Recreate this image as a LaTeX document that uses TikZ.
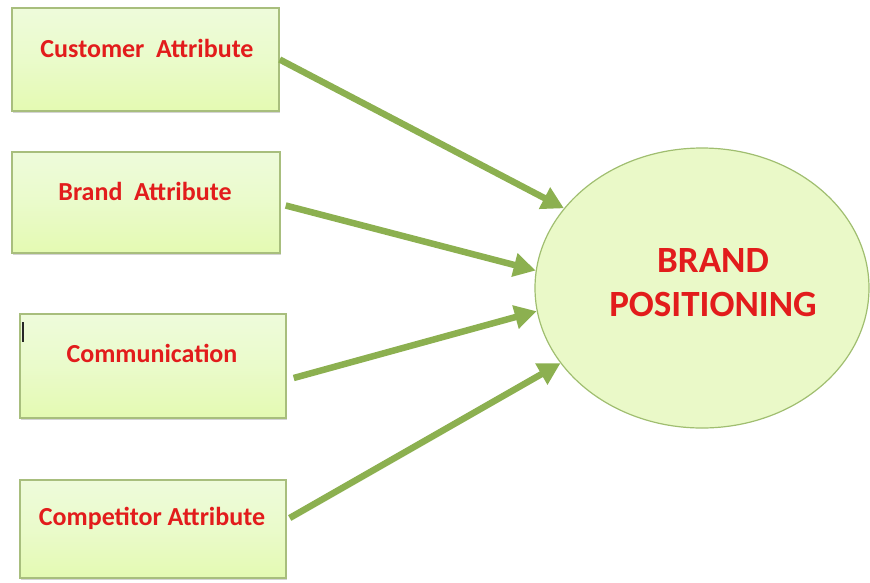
\documentclass[tikz,border=0pt]{standalone}
\usepackage{fontspec}
\setmainfont{Carlito}
\usetikzlibrary{arrows.meta,shadows,shapes.geometric}

\definecolor{boxtop}{RGB}{238,251,219}
\definecolor{boxbot}{RGB}{228,250,178}
\definecolor{boxedge}{RGB}{168,190,125}
\definecolor{arrowgreen}{RGB}{140,176,80}
\definecolor{labelred}{RGB}{226,28,28}
\definecolor{ovalfill}{RGB}{234,249,200}
\definecolor{ovaledge}{RGB}{160,190,112}

\tikzset{
  factor/.style={draw=boxedge, line width=1.4pt, rectangle,
    top color=boxtop, bottom color=boxbot, middle color=boxtop!60!boxbot,
    minimum width=#1, inner sep=0pt,
    drop shadow={opacity=0.35, shadow xshift=1.2pt, shadow yshift=-2pt}},
  factortext/.style={font=\bfseries\fontsize{26}{30}\selectfont, text=labelred, inner sep=0pt},
  pull/.style={draw=arrowgreen, line width=6.5pt,
    -{Triangle[width=23pt,length=22pt]}}
}

\begin{document}
\begin{tikzpicture}[x=1pt,y=-1pt]
  \useasboundingbox (0,0) rectangle (870,582);

  % the four input boxes
  \node[factor=267pt, minimum height=103pt] (c1) at (145.5,59.5) {};
  \node[factor=268pt, minimum height=101pt] (c2) at (146,202.5) {};
  \node[factor=266pt, minimum height=104pt] (c3) at (153,366) {};
  \node[factor=266pt, minimum height=98pt]  (c4) at (153,529) {};

  \node[factortext] (t1) at (147,48) {Customer\ \ Attribute};
  \node[factortext] (t2) at (145,191) {Brand\ \ Attribute};
  \node[factortext] (t3) at (152,353) {Communication};
  \node[factortext] (t4) at (152,518) {Competitor Attribute};

  % text cursor left in the third box
  \draw[line width=2.4pt, black!85] ([shift={(3.5pt,-9pt)}]c3.north west) -- ++(0,20);

  % the central oval
  \node[draw=ovaledge, line width=1.2pt, ellipse, fill=ovalfill,
        minimum width=334pt, minimum height=280pt, inner sep=0pt] (bp) at (702,288) {};
  \node[font=\bfseries\fontsize{37}{44}\selectfont, text=labelred, align=center, inner sep=0pt]
       (bpt) at (713,283) {BRAND\\POSITIONING};

  % arrows into the oval
  \draw[pull] (c1.east) -- (bp.150.5);
  \draw[pull] ([shift={(5pt,-3pt)}]c2.east) -- (bp.174.5);
  \draw[pull] ([shift={(7pt,-12pt)}]c3.east) -- (bp.188);
  \draw[pull] ([shift={(3pt,11pt)}]c4.east) -- (bp.208.5);
\end{tikzpicture}
\end{document}
